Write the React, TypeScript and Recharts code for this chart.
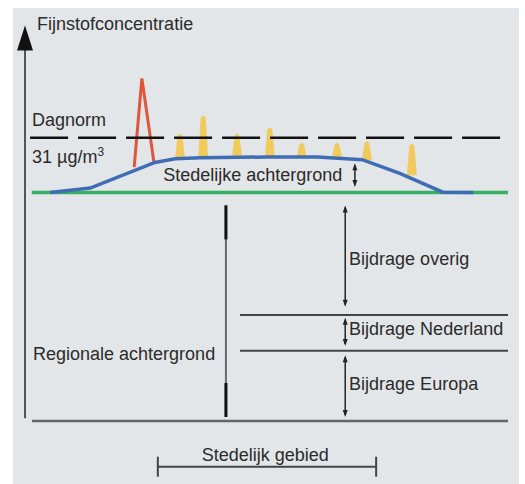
import React from 'react'
import { ComposedChart, Line, Bar, XAxis, YAxis, ReferenceLine, ReferenceDot } from 'recharts'

// positie langs de doorsnede (0-100) en concentratie fijnstof (µg/m3)
const regionaal = [
  { pos: 1.4, conc: 25 },
  { pos: 100, conc: 25 },
]

const stedelijk = [
  { pos: 5.2, conc: 25.0 },
  { pos: 13.5, conc: 25.5 },
  { pos: 26.9, conc: 28.3 },
  { pos: 31.1, conc: 28.7 },
  { pos: 36.2, conc: 28.8 },
  { pos: 50.1, conc: 28.9 },
  { pos: 60.5, conc: 28.9 },
  { pos: 69.8, conc: 28.6 },
  { pos: 77.6, conc: 27.1 },
  { pos: 86.5, conc: 25.05 },
  { pos: 92.8, conc: 25.0 },
]

const piekRood = [
  { pos: 22.6, conc: 27.8 },
  { pos: 24.2, conc: 37.5 },
  { pos: 26.7, conc: 28.3 },
]

const piekenPos = [32.1, 36.9, 43.9, 50.7, 57.3, 64.6, 70.8, 80.1]
const piekenTop = [31.5, 33.5, 31.5, 32.2, 30.5, 30.5, 30.7, 30.4]
const piekenBasis = [28.7, 28.8, 28.9, 28.9, 28.9, 28.9, 28.5, 26.9]

const dagnorm = 31
const regionaleAchtergrond = 25
const bijdrageGrenzen = [7.7, 11.6] // Europa | Nederland | overig

const pieken = piekenPos.map((pos, i) => ({ pos, range: [piekenBasis[i], piekenTop[i]] }))

const FONT = '"Liberation Sans", Arial, sans-serif'
const INK = '#2b2b2b'

function Vlam(props: any) {
  const { x, y, width, height } = props
  const top = Math.min(y, y + height)
  const bot = Math.max(y, y + height)
  const cx = x + width / 2
  const hb = 5
  const ht = 2.5
  return (
    <path
      d={`M${cx - hb},${bot} L${cx - ht},${top + 3} Q${cx},${top - 2} ${cx + ht},${top + 3} L${cx + hb},${bot} Z`}
      fill="#f3c64c"
      opacity={0.9}
    />
  )
}

function Pijl(props: any) {
  const { x1, y1, y2 } = props
  const top = Math.min(y1, y2)
  const bot = Math.max(y1, y2)
  return (
    <g>
      <line x1={x1} y1={top + 2} x2={x1} y2={bot - 2} stroke="#222" strokeWidth={1.5} />
      <polygon points={`${x1},${top} ${x1 - 2.5},${top + 7} ${x1 + 2.5},${top + 7}`} fill="#222" />
      <polygon points={`${x1},${bot} ${x1 - 2.5},${bot - 7} ${x1 + 2.5},${bot - 7}`} fill="#222" />
    </g>
  )
}

function RegionaalPijl(props: any) {
  const { x1, y1, y2 } = props
  const top = Math.min(y1, y2)
  const bot = Math.max(y1, y2)
  return (
    <g>
      <line x1={x1} y1={top} x2={x1} y2={bot} stroke="#6a6a6a" strokeWidth={2} />
      <line x1={x1} y1={top} x2={x1} y2={top + 34} stroke="#111" strokeWidth={3} />
      <line x1={x1} y1={bot - 34} x2={x1} y2={bot} stroke="#111" strokeWidth={3} />
    </g>
  )
}

function YAs(props: any) {
  const { x1, y1, y2 } = props
  const top = Math.min(y1, y2)
  const bot = Math.max(y1, y2)
  return (
    <g>
      <line x1={x1} y1={top + 20} x2={x1} y2={bot} stroke="#555" strokeWidth={2} />
      <polygon points={`${x1},${top} ${x1 - 8},${top + 25} ${x1 + 8},${top + 25}`} fill="#111" />
    </g>
  )
}

function Haak(props: any) {
  const { x1, x2, y1 } = props
  return (
    <g stroke="#444" strokeWidth={2}>
      <line x1={x1} y1={y1} x2={x2} y2={y1} />
      <line x1={x1} y1={y1 - 10} x2={x1} y2={y1 + 10} />
      <line x1={x2} y1={y1 - 10} x2={x2} y2={y1 + 10} />
    </g>
  )
}

function tekst(inhoud: React.ReactNode) {
  return (p: any) => (
    <text x={p.cx} y={p.cy} fontFamily={FONT} fontSize={18} fill={INK}>
      {inhoud}
    </text>
  )
}

export default function App() {
  return (
    <div style={{ position: 'absolute', left: 0, top: 0, width: 525, height: 484, background: '#fff' }}>
      <div style={{ position: 'absolute', left: 13, top: 8, width: 506, height: 476, background: '#e3e6e8' }} />
      <div style={{ position: 'absolute', left: 0, top: 0 }}>
        <ComposedChart
          width={525}
          height={484}
          data={pieken}
          margin={{ top: 19, right: 17, bottom: 63, left: 25 }}
        >
          <XAxis dataKey="pos" type="number" domain={[0, 100]} allowDataOverflow hide />
          <YAxis type="number" domain={[0, 44]} allowDataOverflow hide />

          <ReferenceLine segment={[{ x: 0, y: 0.3 }, { x: 0, y: 43.3 }]} ifOverflow="visible" shape={(p: any) => <YAs {...p} />} />
          <ReferenceLine segment={[{ x: 1.45, y: 0 }, { x: 100, y: 0 }]} ifOverflow="visible" stroke="#666" strokeWidth={2.5} />

          <Line data={regionaal} dataKey="conc" stroke="#3aae62" strokeWidth={3.5} dot={false} isAnimationActive={false} />
          <Bar dataKey="range" barSize={9} shape={(p: any) => <Vlam {...p} />} isAnimationActive={false} />
          <Line data={piekRood} dataKey="conc" stroke="#e0553b" strokeWidth={3} dot={false} isAnimationActive={false} />
          <Line data={stedelijk} dataKey="conc" stroke="#3f6db5" strokeWidth={3.5} dot={false} isAnimationActive={false} />

          <ReferenceLine
            segment={[{ x: 1.05, y: dagnorm }, { x: 98.8, y: dagnorm }]}
            ifOverflow="visible"
            stroke="#111"
            strokeWidth={2.5}
            strokeDasharray="38 10"
          />

          <ReferenceLine segment={[{ x: 44.5, y: bijdrageGrenzen[1] }, { x: 100, y: bijdrageGrenzen[1] }]} stroke="#444" strokeWidth={2} />
          <ReferenceLine segment={[{ x: 44.5, y: bijdrageGrenzen[0] }, { x: 100, y: bijdrageGrenzen[0] }]} stroke="#444" strokeWidth={2} />

          <ReferenceLine segment={[{ x: 41.6, y: 0.44 }, { x: 41.6, y: 23.6 }]} shape={(p: any) => <RegionaalPijl {...p} />} />
          <ReferenceLine segment={[{ x: 66.3, y: 12.5 }, { x: 66.3, y: 23.6 }]} shape={(p: any) => <Pijl {...p} />} />
          <ReferenceLine segment={[{ x: 66.3, y: 8.2 }, { x: 66.3, y: 11.3 }]} shape={(p: any) => <Pijl {...p} />} />
          <ReferenceLine segment={[{ x: 66.3, y: 0.44 }, { x: 66.3, y: 7.2 }]} shape={(p: any) => <Pijl {...p} />} />
          <ReferenceLine segment={[{ x: 68.3, y: regionaleAchtergrond + 0.6 }, { x: 68.3, y: 28.2 }]} shape={(p: any) => <Pijl {...p} />} />

          <ReferenceLine segment={[{ x: 27.5, y: -5 }, { x: 72.7, y: -5 }]} ifOverflow="visible" shape={(p: any) => <Haak {...p} />} />

          <ReferenceDot x={2.5} y={42.8} ifOverflow="visible" shape={tekst('Fijnstofconcentratie')} />
          <ReferenceDot x={1.45} y={32.3} ifOverflow="visible" shape={tekst('Dagnorm')} />
          <ReferenceDot
            x={1.45}
            y={28.2}
            ifOverflow="visible"
            shape={tekst(
              <>
                31 µg/m<tspan dy={-7} fontSize={12}>3</tspan>
              </>
            )}
          />
          <ReferenceDot x={28.6} y={26.3} ifOverflow="visible" shape={tekst('Stedelijke achtergrond')} />
          <ReferenceDot x={1.66} y={6.7} ifOverflow="visible" shape={tekst('Regionale achtergrond')} />
          <ReferenceDot x={67.1} y={17.1} ifOverflow="visible" shape={tekst('Bijdrage overig')} />
          <ReferenceDot x={67.1} y={9.4} ifOverflow="visible" shape={tekst('Bijdrage Nederland')} />
          <ReferenceDot x={67.1} y={3.4} ifOverflow="visible" shape={tekst('Bijdrage Europa')} />
          <ReferenceDot x={36.6} y={-4.4} ifOverflow="visible" shape={tekst('Stedelijk gebied')} />
        </ComposedChart>
      </div>
    </div>
  )
}
